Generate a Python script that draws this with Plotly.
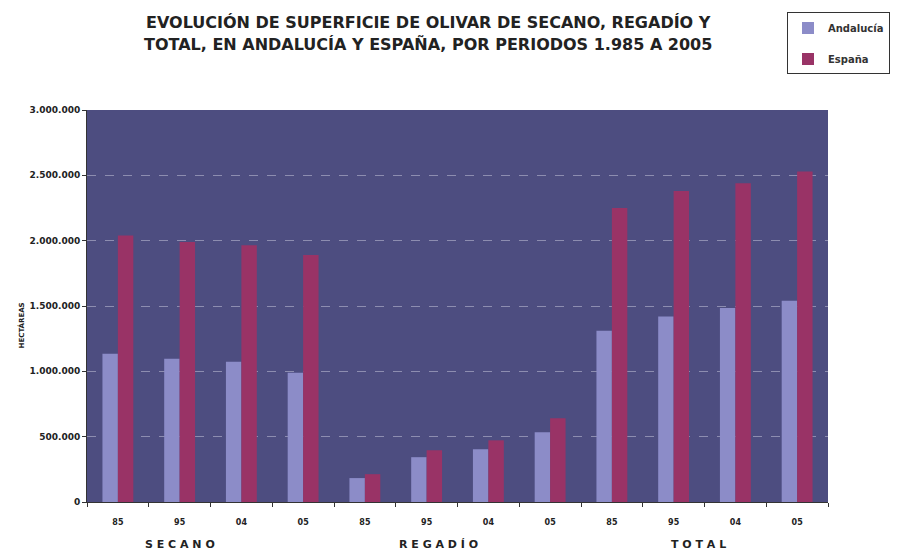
import plotly.graph_objects as go

# ---- data ----
periods = ["85", "95", "04", "05"]
groups = ["S E C A N O", "R E G A D Í O", "T O T A L"]
andalucia = [1135000, 1097000, 1074000, 990000,
             183000, 343000, 404000, 533000,
             1310000, 1420000, 1485000, 1540000]
espana = [2040000, 1990000, 1965000, 1890000,
          213000, 396000, 472000, 640000,
          2250000, 2380000, 2440000, 2530000]
y_ticks = [0, 500000, 1000000, 1500000, 2000000, 2500000, 3000000]
title_lines = ["EVOLUCIÓN DE SUPERFICIE DE OLIVAR DE SECANO, REGADÍO Y",
               "TOTAL, EN ANDALUCÍA Y ESPAÑA, POR PERIODOS 1.985 A 2005"]

tick_text = periods * len(groups)
xpos = list(range(len(andalucia)))

# plot area in pixels (for placing free text)
L, R, T, B = 87, 828, 108, 502
def px_x(px):
    return (px - L) / (R - L)
def px_y(py):
    return (B - py) / (B - T)

fig = go.Figure()
fig.add_trace(go.Bar(x=xpos, y=andalucia, name="Andalucía",
                     marker=dict(color="#8c8cc8", line=dict(width=0)),
                     legendgroup="a"))
fig.add_trace(go.Bar(x=xpos, y=espana, name="España",
                     marker=dict(color="#993366", line=dict(width=0)),
                     legendgroup="e"))

for i, g in enumerate(groups):
    cx = [1.0, 5.2, 9.4][i]
    fig.add_annotation(x=cx, y=px_y(545), xref="x", yref="paper", text="<b>" + g + "</b>",
                       showarrow=False, font=dict(family="DejaVu Sans", size=11, color="#222"),
                       yanchor="middle")

for j, line in enumerate(title_lines):
    fig.add_annotation(x=px_x(428), y=px_y(20 + 22 * j), xref="paper", yref="paper",
                       text="<b>" + line + "</b>", showarrow=False,
                       xanchor="center", yanchor="middle",
                       font=dict(family="DejaVu Sans", size=16, color="#222"))

fig.add_annotation(x=px_x(15), y=px_y(325), xref="paper", yref="paper", text="<b>HECTÁREAS</b>",
                   textangle=-90, showarrow=False,
                   font=dict(family="DejaVu Sans", size=7, color="#222"))

fig.update_layout(
    width=904, height=554,
    margin=dict(l=L, r=904 - R, t=T, b=554 - B),
    paper_bgcolor="white",
    plot_bgcolor="#4d4d80",
    separators=",.",
    barmode="group", bargap=0.5, bargroupgap=0.0,
    legend=dict(x=px_x(787), y=px_y(10), xanchor="left", yanchor="top",
                bordercolor="#333", borderwidth=1, bgcolor="white",
                font=dict(family="DejaVu Sans", size=10, color="#333", weight="bold"),
                tracegroupgap=12, itemwidth=30),
    showlegend=True,
    xaxis=dict(range=[-0.5, 11.5], tickmode="array", tickvals=xpos, ticktext=tick_text,
               showline=True, linecolor="#333", linewidth=1, mirror=False,
               showgrid=False, zeroline=False, ticks="", ticklabelstandoff=12,
               tickfont=dict(family="DejaVu Sans", size=8, color="#222", weight="bold"),
               minor=dict(tickmode="array", tickvals=[i - 0.5 for i in range(13)],
                          ticks="outside", ticklen=4, tickcolor="#333", showgrid=False)),
    yaxis=dict(range=[0, 3000000], tickmode="array", tickvals=y_ticks,
               tickformat=",d", showline=True, linecolor="#333", linewidth=1,
               ticks="outside", ticklen=4, tickcolor="#333",
               showgrid=True, gridcolor="rgba(220,220,235,0.45)", griddash="dash", gridwidth=1,
               zeroline=False,
               tickfont=dict(family="DejaVu Sans", size=9, color="#222", weight="bold")),
)

fig.write_html("out.html")
